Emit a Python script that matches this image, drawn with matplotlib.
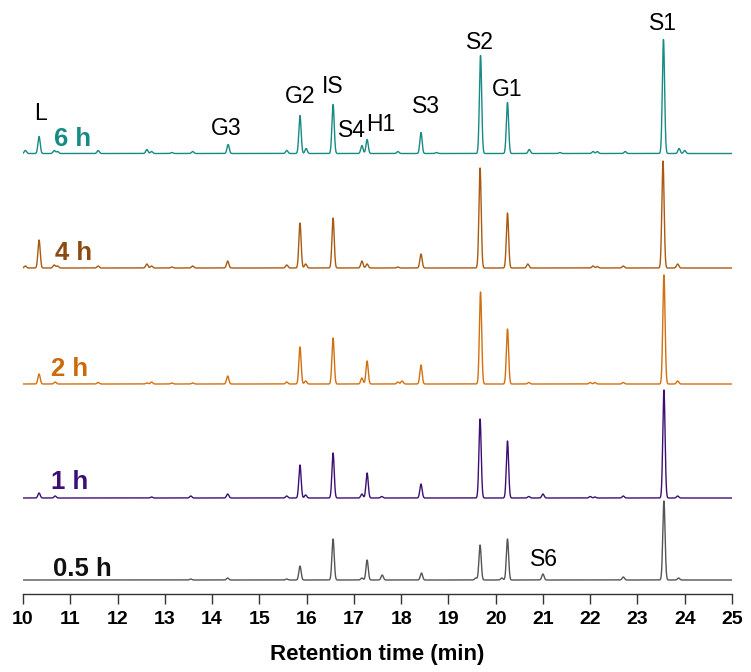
import numpy as np
import matplotlib
matplotlib.use("Agg")
import matplotlib.pyplot as plt

plt.rcParams['font.family'] = ['Liberation Sans', 'DejaVu Sans']

# peak tables (retention time in min, height in a.u.)
rt_6h = [10.05, 10.34, 10.66, 10.73, 11.59, 12.62, 12.72, 13.15, 13.59, 14.34, 15.58, 15.86, 15.99,
         16.56, 17.17, 17.28, 17.93, 18.42, 18.75, 19.68, 20.25, 20.71, 21.36, 22.06, 22.15, 22.74,
         23.55, 23.88, 24.0]
h_6h = [3, 17, 3, 2, 3, 4, 2, 1, 2, 9, 3, 38, 5,
        49, 8, 14, 2, 21, 1, 98, 51, 4, 1, 2, 2, 2,
        114, 5, 3]

rt_4h = [10.05, 10.34, 10.66, 10.73, 11.59, 12.62, 12.72, 13.15, 13.59, 14.33, 15.58, 15.86, 15.98,
         16.56, 17.17, 17.28, 17.93, 18.42, 19.67, 20.25, 20.68, 22.06, 22.15, 22.7, 23.54, 23.85]
h_4h = [2, 28, 3, 2, 2, 4, 2, 1, 2, 7, 3, 45, 4,
        50, 7, 4, 1, 14, 100, 55, 4, 2, 1.5, 2, 107, 4]

rt_2h = [10.34, 10.68, 11.59, 12.62, 12.72, 13.15, 13.59, 14.33, 15.58, 15.86, 15.98, 16.56,
         17.17, 17.28, 17.93, 18.02, 18.42, 19.68, 20.25, 20.7, 22.0, 22.1, 22.7, 23.56, 23.85]
h_2h = [10, 2, 1.5, 1, 2, 1, 1, 8, 2, 37, 3, 46,
        6, 23, 2, 3, 19, 92, 55, 1.5, 1.5, 1.5, 1.5, 109, 3]

rt_1h = [10.34, 10.68, 12.72, 13.55, 14.33, 15.58, 15.86, 15.98, 16.56, 17.17, 17.28, 17.59,
         18.42, 19.67, 20.25, 20.7, 21.0, 22.0, 22.1, 22.7, 23.56, 23.85]
h_1h = [5, 2, 1, 2, 4, 2, 33, 3, 45, 4, 25, 1.5,
        14, 79, 57, 1.5, 4, 1.5, 1, 2, 108, 2]

rt_05h = [13.55, 14.33, 15.58, 15.86, 16.56, 17.17, 17.28, 17.6, 18.43, 19.58, 19.67, 20.13,
          20.25, 21.0, 22.7, 23.56, 23.87]
h_05h = [1, 2, 1, 14, 41, 2, 20, 5, 7, 2, 35, 2,
         41, 6, 3, 79, 2]

times = ['0.5 h', '1 h', '2 h', '4 h', '6 h']
peak_rts = [rt_05h, rt_1h, rt_2h, rt_4h, rt_6h]
peak_hs = [h_05h, h_1h, h_2h, h_4h, h_6h]

peak_names = ['L', 'G3', 'G2', 'IS', 'S4', 'H1', 'S3', 'S2', 'G1', 'S1']
name_x = [10.36, 14.29, 15.86, 16.56, 16.96, 17.57, 18.53, 19.67, 20.24, 23.54]
name_y = [474, 459, 491, 501, 457, 463, 481, 545, 498, 564]

line_colors = ['#555555', '#3d0f75', '#d2700f', '#a95a10', '#168a85']
label_colors = ['#111111', '#3d0f75', '#cc6a0a', '#8a4a10', '#168a85']
offsets = [14, 96, 210, 326, 440.5]
label_x = [11.25, 10.99, 10.98, 11.07, 11.05]
label_y = [18, 105, 218, 334, 448]

fig = plt.figure(figsize=(7.51, 6.72), dpi=100)
ax = fig.add_axes([23 / 751, 78 / 672, 709 / 751, 594 / 672])

t = np.arange(10.0, 25.0, 0.002)
sigma = 0.024
for rts, hs, off, lc in zip(peak_rts, peak_hs, offsets, line_colors):
    sig = np.zeros_like(t)
    for r, h in zip(rts, hs):
        sig += h * np.exp(-0.5 * ((t - r) / sigma) ** 2)
    ax.plot(t, sig + off, color=lc, lw=1.0)

for lab, x, y, c in zip(times, label_x, label_y, label_colors):
    ax.text(x, y, lab, color=c, fontsize=18.5, fontweight='bold', ha='center', va='baseline')

for n, x, y in zip(peak_names, name_x, name_y):
    ax.text(x, y, n, fontsize=16.5, ha='center', va='baseline')
ax.text(21.02, 28, 'S6', fontsize=16.5, ha='center', va='baseline')

ax.set_xlim(10, 25)
ax.set_ylim(0, 594)
for s in ['left', 'right', 'top']:
    ax.spines[s].set_visible(False)
ax.spines['bottom'].set_color('#333333')
ax.spines['bottom'].set_linewidth(1.0)
ax.set_yticks([])
ax.set_xticks(np.arange(10, 26, 1))
ax.tick_params(axis='x', direction='out', length=7, width=1.0, color='#333333', pad=5)
for lbl in ax.get_xticklabels():
    lbl.set_fontweight('bold')
    lbl.set_fontsize(14)
ax.set_xlabel('Retention time (min)', fontsize=16, fontweight='bold')
ax.xaxis.set_label_coords(0.5, -0.085)

fig.savefig('out.png', dpi=100)
